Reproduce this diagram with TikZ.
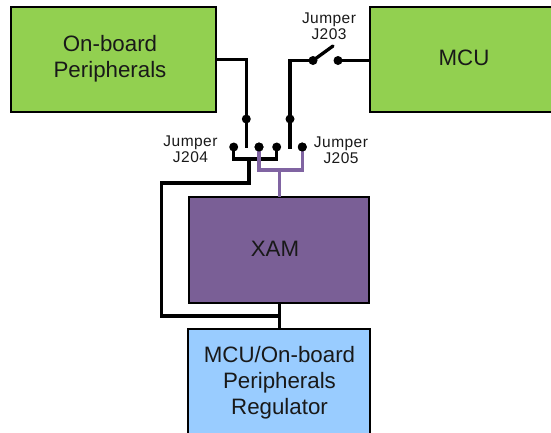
\documentclass[tikz,border=0pt]{standalone}
\usepackage{fontspec}
\setmainfont{Liberation Sans}
\definecolor{boxgreen}{HTML}{92D050}
\definecolor{boxpurple}{HTML}{7A5F96}
\definecolor{boxblue}{HTML}{99CCFF}
\definecolor{wirepurple}{HTML}{8064A2}
\tikzset{
  box/.style={draw=black,line width=2pt,anchor=north west,inner sep=0pt,outer sep=0pt},
  boxtext/.style={font=\fontsize{22.3}{26}\selectfont,align=center,text=black!90,inner sep=0pt},
  pin/.style={circle,fill=black,draw=none,minimum size=9pt,inner sep=0pt},
  wire/.style={line width=3.3pt,black,line cap=butt,line join=miter},
  pwire/.style={line width=3.3pt,wirepurple,line join=miter},
  lab/.style={font=\addfontfeature{LetterSpace=3}\fontsize{15.5}{15.7}\selectfont,align=center,text=black!90,inner sep=0pt}
}
\begin{document}
\begin{tikzpicture}[x=1pt,y=-1pt]
\useasboundingbox (0,0) rectangle (551,432);
\clip (0,0) rectangle (551,432);
% boxes
\node[box,fill=boxgreen,minimum width=205pt,minimum height=105pt] (onboard) at (11,7) {};
\node[box,fill=boxgreen,minimum width=200pt,minimum height=105pt] (mcu) at (369.5,7) {};
\node[box,fill=boxpurple,minimum width=180pt,minimum height=106pt] (xam) at (189,197) {};
\node[box,fill=boxblue,minimum width=182.5pt,minimum height=125pt] (reg) at (187.5,329) {};
\node[boxtext] (onboardtext) at (110,59) {On-board\\Peripherals};
\node[boxtext] (mcutext) at (464,58) {MCU};
\node[boxtext] (xamtext) at (275,249) {XAM};
\node[boxtext] (regtext) at (279.5,383) {MCU/On-board\\Peripherals\\Regulator};
% pins
\node[pin] (a) at (246.3,119) {};
\node[pin] (b) at (290,119) {};
\node[pin] (s1) at (313,60.5) {};
\node[pin] (s2) at (338,60.5) {};
\node[pin] (p1) at (233.7,147) {};
\node[pin] (p2) at (259,147) {};
\node[pin] (p3) at (276.7,147) {};
\node[pin] (p4) at (302.3,147) {};
% free ends and bends
\coordinate (aend) at (246.3,148);
\coordinate (bend) at (290,149);
\coordinate (arm) at (333,46);
\coordinate (bus) at (249,159);
\coordinate (pbus) at (279.5,170);
\coordinate (ret) at (279.5,316);
% wires
\draw[wire] (onboard.east) -| (aend);
\draw[wire] (s1.center) -- (290,60.5) -- (bend);
\draw[wire] (s2.center) -- (mcu.west |- s2);
\draw[wire,line cap=round] (s1.center) -- (arm);
\draw[wire] (p1.center) |- (bus) -| (p3.center);
\draw[wire] (bus) -- (249,183) -- (161.5,183) -- (161.5,316) -- (ret);
\draw[wire] (ret) -- (reg.north -| ret);
\draw[wire] (xam.south -| ret) -- (ret);
\draw[pwire] (p2.center) |- (pbus) -| (p4.center);
\draw[pwire] (pbus) -- (xam.north -| pbus);
\node[pin] at (p2) {};
\node[pin] at (p4) {};
% labels
\node[lab] (j204) at (190.5,149) {Jumper\\J204};
\node[lab] (j205) at (341,150.5) {Jumper\\J205};
\node[lab] (j203) at (329,26.5) {Jumper\\J203};
\end{tikzpicture}
\end{document}
